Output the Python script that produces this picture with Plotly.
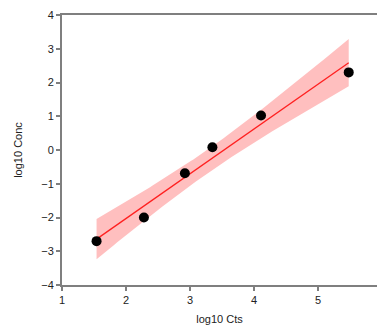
import numpy as np
import plotly.graph_objects as go

# Calibration points
log_cts = [1.54, 2.28, 2.92, 3.35, 4.11, 5.48]
log_conc = [-2.70, -2.00, -0.69, 0.08, 1.02, 2.30]

x_ticks = [1, 2, 3, 4, 5]
y_ticks = [-4, -3, -2, -1, 0, 1, 2, 3, 4]

# Least-squares fit with a 95% confidence band for the mean response
x = np.array(log_cts)
y = np.array(log_conc)
n = len(x)
slope, intercept = np.polyfit(x, y, 1)
resid = y - (slope * x + intercept)
s = np.sqrt(np.sum(resid ** 2) / (n - 2))
sxx = np.sum((x - x.mean()) ** 2)
t_crit = 2.776  # two-sided 95%, 4 degrees of freedom

xf = np.linspace(x.min(), x.max(), 100)
yf = slope * xf + intercept
half = t_crit * s * np.sqrt(1.0 / n + (xf - x.mean()) ** 2 / sxx)
upper = yf + half
lower = yf - half

fig = go.Figure()
fig.add_trace(go.Scatter(
    x=np.concatenate([xf, xf[::-1]]),
    y=np.concatenate([upper, lower[::-1]]),
    fill="toself", fillcolor="rgba(255,0,0,0.25)",
    line=dict(width=0), hoverinfo="skip", showlegend=False,
))
fig.add_trace(go.Scatter(
    x=xf, y=yf, mode="lines",
    line=dict(color="#ff2020", width=1.3), showlegend=False,
))
fig.add_trace(go.Scatter(
    x=log_cts, y=log_conc, mode="markers",
    marker=dict(color="black", size=10), showlegend=False,
))

axis_common = dict(
    showgrid=False, zeroline=False,
    showline=True, linecolor="#7f7f7f", linewidth=2,
    ticks="outside", ticklen=4, tickwidth=1.5, tickcolor="#7f7f7f",
    tickfont=dict(family="Liberation Sans, Arial", size=11, color="#222"),
    title_font=dict(family="Liberation Sans, Arial", size=11, color="#222"),
)

fig.update_layout(
    width=377, height=325,
    margin=dict(l=62, r=0, t=15, b=40),
    plot_bgcolor="white", paper_bgcolor="white",
    xaxis=dict(
        range=[1, 1 + 315 / 64], tickvals=x_ticks, mirror=True,
        title=dict(text="log10 Cts", standoff=12), **axis_common,
    ),
    yaxis=dict(
        range=[-4, 4], tickvals=y_ticks,
        title=dict(text="log10 Conc", standoff=16), **axis_common,
    ),
)

fig.write_html("out.html")
